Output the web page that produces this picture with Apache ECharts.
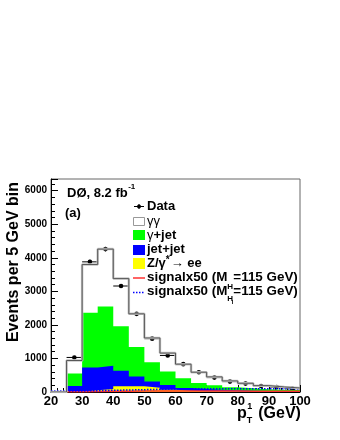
<!DOCTYPE html>
<html><head><meta charset="utf-8">
<script src="https://cdn.jsdelivr.net/npm/echarts@6/dist/echarts.min.js"></script>
<style>html,body{margin:0;padding:0;background:#fff}#c{width:340px;height:440px}</style>
</head><body><div id="c"></div>
<script>
// bin left edges (GeV), 5 GeV bins from 20 to 100
const binEdges = [20,25,30,35,40,45,50,55,60,65,70,75,80,85,90,95,100];
const dataCounts = [null,1030,3880,4260,3160,2330,1590,1090,830,590,430,310,250,180,150,100];
const gammaGamma = [0,390,1440,1710,1420,990,720,550,420,320,250,190,150,110,80,60];
const gammaJet   = [0,370,1630,1770,1330,880,580,400,290,180,130,90,70,50,45,40];
const jetJet     = [0,170,680,690,460,290,180,140,80,65,50,35,30,22,17,15];
const zee        = [0,10,50,90,170,170,130,70,40,25,20,15,10,8,8,5];
const signalRed  = [10,10,15,20,25,30,30,30,30,30,30,30,25,25,20,20];
const signalBlue = [30,30,40,50,60,70,80,90,100,100,100,100,100,100,100,100];
const xTickValues = [20,30,40,50,60,70,80,90,100];
const yTickValues = [0,1000,2000,3000,4000,5000,6000];

const nb = binEdges.length - 1;
function cum(...arrs){ const out=[]; for(let i=0;i<nb;i++){let s=0; arrs.forEach(a=>s+=a[i]); out.push(s);} return out; }
const topZee = cum(zee);
const topJJ = cum(zee, jetJet);
const topGJ = cum(zee, jetJet, gammaJet);
const topAll = cum(zee, jetJet, gammaJet, gammaGamma);
function stepPts(v){ return binEdges.map((x,i)=>[x, v[Math.min(i,nb-1)]]); }

const F = '"Liberation Sans", Arial, Helvetica, sans-serif';

function fill(name, vals, color){
  return {name, type:'line', step:'end', data:stepPts(vals), symbol:'none', silent:true,
    lineStyle:{width:0}, areaStyle:{color, opacity:1}, animation:false};
}
function lineS(name, vals, color, width, type){
  return {name, type:'line', step:'end', data:stepPts(vals), symbol:'none', silent:true,
    lineStyle:{width, color, type}, animation:false};
}

const dataPts = [];
for(let i=0;i<nb;i++){ if(dataCounts[i]!=null) dataPts.push([(binEdges[i]+binEdges[i+1])/2, dataCounts[i]]); }

const ctx = document.createElement('canvas').getContext('2d');
function tw(t, font){ ctx.font = font; return ctx.measureText(t).width; }

const B13 = 'bold 13px ' + F;
const R13 = '13px ' + F;
const B8 = 'bold 8px ' + F;
const g = [];
function txt(t, x, y, font, extra){ g.push(Object.assign({type:'text', style:{text:t, x, y, font, fill:'#000', verticalAlign:'middle'}, z:100}, extra||{})); return x + tw(t, font); }

// header
let xx = txt('DØ, 8.2 fb', 67, 193, B13);
txt('-1', xx+0.5, 187, B8);
txt('(a)', 65, 213, B13);

// legend symbols
g.push({type:'line', shape:{x1:134,y1:206.5,x2:144,y2:206.5}, style:{stroke:'#000',lineWidth:1}, z:100});
g.push({type:'line', shape:{x1:139,y1:204,x2:139,y2:209}, style:{stroke:'#000',lineWidth:1}, z:100});
g.push({type:'circle', shape:{cx:139,cy:206.5,r:2}, style:{fill:'#000'}, z:100});
g.push({type:'rect', shape:{x:133.5,y:217.5,width:11,height:8}, style:{fill:'#fff',stroke:'#999',lineWidth:1}, z:100});
g.push({type:'rect', shape:{x:133,y:230,width:12,height:10}, style:{fill:'#00ff00'}, z:100});
g.push({type:'rect', shape:{x:133,y:245,width:12,height:10}, style:{fill:'#0000ff'}, z:100});
g.push({type:'rect', shape:{x:133,y:258,width:12,height:11}, style:{fill:'#ffff00'}, z:100});
g.push({type:'line', shape:{x1:133,y1:278,x2:145,y2:278}, style:{stroke:'#ff3030',lineWidth:1.5}, z:100});
g.push({type:'line', shape:{x1:133,y1:292.5,x2:145,y2:292.5}, style:{stroke:'#0000ff',lineWidth:1.5,lineDash:[1.5,1.5]}, z:100});

// legend texts
txt('Data', 147, 206, B13);
txt('γγ', 147, 221, R13);
xx = txt('γ', 147, 235, R13); txt('+jet', xx, 235, B13);
txt('jet+jet', 147, 249.5, B13);
xx = txt('Z/γ', 147, 263.5, B13); xx = txt('*', xx, 260, 'bold 10px '+F); txt('→ ee', xx+1, 263.5, B13);
const B135 = 'bold 13.4px ' + F;
xx = txt('signalx50 (M', 147, 277.5, B135); let hx = xx; xx = txt('=115 GeV)', xx+6, 277.5, B135);
txt('H', hx, 287, B8);
xx = txt('signalx50 (M', 147, 291.5, B135); txt('=115 GeV)', xx+6, 291.5, B135);
txt('H', hx, 298.5, B8); txt('l', hx+4.5, 302, 'bold 6px '+F);

// axis titles
xx = txt('p', 237, 414, 'bold 16px '+F);
txt('1', xx+0.5, 407, 'bold 9px '+F);
txt('T', xx, 421, 'bold 9px '+F);
txt(' (GeV)', xx+7, 414, 'bold 16px '+F);
g.push({type:'text', x:14, y:182, rotation:Math.PI/2, style:{text:'Events per 5 GeV bin', font:'bold 16px '+F, fill:'#000', align:'right', verticalAlign:'middle'}, z:100});

const chart = echarts.init(document.getElementById('c'), null, {renderer:'canvas'});
chart.setOption({
  animation:false,
  backgroundColor:'#fff',
  grid:{left:51, top:179, right:40, bottom:48, show:true, borderColor:'#666', borderWidth:1, backgroundColor:'transparent'},
  xAxis:{type:'value', min:20, max:100, interval:10,
    axisLine:{show:true, onZero:false, lineStyle:{color:'#000', width:1}},
    axisTick:{show:true, inside:true, length:7, lineStyle:{color:'#000'}},
    minorTick:{show:true, splitNumber:5, length:4, lineStyle:{color:'#000'}},
    splitLine:{show:false},
    axisLabel:{fontFamily:F, fontWeight:'bold', fontSize:13, color:'#000', margin:3,
      formatter:v=> xTickValues.includes(v) ? String(v) : ''}},
  yAxis:{type:'value', min:0, max:6350, interval:1000,
    axisLine:{show:true, lineStyle:{color:'#000', width:1}},
    axisTick:{show:true, inside:true, length:7, lineStyle:{color:'#000'}},
    minorTick:{show:true, splitNumber:5, length:4, lineStyle:{color:'#000'}},
    splitLine:{show:false},
    axisLabel:{fontFamily:F, fontWeight:'bold', fontSize:10, color:'#000', margin:4,
      formatter:v=> yTickValues.includes(v) ? String(v) : ''}},
  graphic:g,
  series:[
    fill('γ+jet', topGJ, '#00ff00'),
    fill('jet+jet', topJJ, '#0000ff'),
    fill('Z/γ*→ ee', topZee, '#ffff00'),
    lineS('signal red', signalRed, '#ff3030', 1.5, 'solid'),
    lineS('signal blue', signalBlue, '#0000ff', 1.5, [1.5,1.5]),
    lineS('band', topAll, '#c8c8c8', 2.5, 'solid'),
    lineS('γγ', topAll, '#555', 1, 'solid'),
    {name:'Data', type:'custom', data:dataPts, animation:false, silent:true,
      renderItem(params, api){
        const x=api.value(0), y=api.value(1);
        const l=api.coord([x-2.5,y]), r=api.coord([x+2.5,y]);
        const e=Math.sqrt(y);
        const t=api.coord([x,y+e]), b=api.coord([x,y-e]);
        const c=api.coord([x,y]);
        return {type:'group', children:[
          {type:'line', shape:{x1:l[0],y1:l[1],x2:r[0],y2:r[1]}, style:{stroke:'#000',lineWidth:1}},
          {type:'line', shape:{x1:t[0],y1:t[1],x2:b[0],y2:b[1]}, style:{stroke:'#000',lineWidth:1}},
          {type:'circle', shape:{cx:c[0],cy:c[1],r:2.3}, style:{fill:'#000'}}
        ]};
      }}
  ]
});
</script></body></html>
